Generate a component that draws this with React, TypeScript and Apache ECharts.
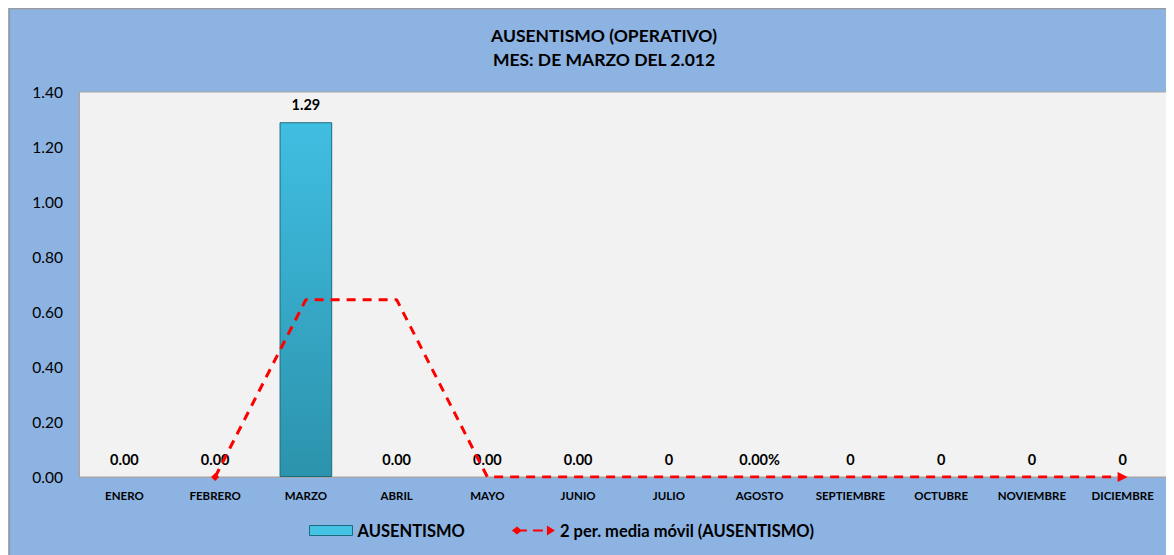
import React, { useEffect, useRef } from "react";
import * as echarts from "echarts";

const titleLines = ["AUSENTISMO (OPERATIVO)", "MES: DE MARZO DEL 2.012"];
const months = ["ENERO", "FEBRERO", "MARZO", "ABRIL", "MAYO", "JUNIO", "JULIO", "AGOSTO", "SEPTIEMBRE", "OCTUBRE", "NOVIEMBRE", "DICIEMBRE"];
const ausentismo = [0, 0, 1.29, 0, 0, 0, 0, 0, 0, 0, 0, 0];
const barLabels = ["0.00", "0.00", "1.29", "0.00", "0.00", "0.00", "0", "0.00%", "0", "0", "0", "0"];
const mediaMovil = [null, 0, 0.645, 0.645, 0, 0, 0, 0, 0, 0, 0, 0];
const seriesNames = ["AUSENTISMO", "2 per. media móvil (AUSENTISMO)"];

const FONT = "Lato, 'Open Sans', sans-serif";
const LINE_ICON = "path://M0,5 L5,1 L10,5 L5,9 Z M9,4 L15,4 L15,6 L9,6 Z M21,4 L31,4 L31,6 L21,6 Z M35,0 L43,5 L35,10 Z";

export default function App() {
  const ref = useRef<HTMLDivElement>(null);
  useEffect(() => {
    if (!ref.current) return;
    const chart = echarts.init(ref.current, null, { renderer: "svg" });
    const barGrad = new echarts.graphic.LinearGradient(0, 0, 0, 1, [
      { offset: 0, color: "#40BEE2" },
      { offset: 1, color: "#2C93AC" },
    ]);
    const barData = ausentismo.map((v) => ({
      value: v,
      itemStyle: { borderWidth: v > 0 ? 1 : 0 },
    }));
    const lineData = mediaMovil.map((v, i) => {
      if (i === 1) return { value: v, symbol: "diamond", symbolSize: 8 };
      if (i === mediaMovil.length - 1) return { value: v, symbol: "triangle", symbolRotate: -90, symbolSize: 10 };
      return { value: v, symbol: "none" };
    });
    chart.setOption({
      animation: false,
      backgroundColor: "#8DB3E2",
      textStyle: { fontFamily: FONT },
      title: {
        text: titleLines.join("\n"),
        left: 591,
        top: 10,
        textAlign: "center",
        textStyle: { fontFamily: FONT, fontSize: 17.5, fontWeight: "bold", color: "#000", lineHeight: 24 },
      },
      graphic: [
        {
          type: "rect",
          shape: { x: 1.5, y: 0.5, width: 2000, height: 2000 },
          style: { fill: "none", stroke: "#9A9A9A", lineWidth: 1.5 },
          silent: true,
        },
      ],
      grid: {
        left: 71,
        top: 84,
        right: 6,
        bottom: 78,
        show: true,
        backgroundColor: "#F2F2F2",
        borderColor: "#A6A6A6",
        borderWidth: 1,
      },
      legend: {
        left: 301,
        top: 514,
        padding: 0,
        itemGap: 47,
        itemWidth: 43,
        itemHeight: 10,
        textStyle: { fontFamily: FONT, fontSize: 16.5, fontWeight: "bold", color: "#000" },
        data: [
          { name: seriesNames[0], icon: "rect", itemStyle: { color: "#45C3E5", borderColor: "#1E6B80", borderWidth: 1 } },
          { name: seriesNames[1], icon: LINE_ICON, itemStyle: { color: "#FF0000" } },
        ],
      },
      xAxis: {
        type: "category",
        data: months,
        axisTick: { show: false },
        axisLine: { lineStyle: { color: "#A6A6A6" } },
        axisLabel: { fontFamily: FONT, fontSize: 11.5, fontWeight: "bold", color: "#000", margin: 12, interval: 0 },
      },
      yAxis: {
        type: "value",
        min: 0,
        max: 1.4,
        interval: 0.2,
        splitLine: { show: false },
        axisLine: { show: true, lineStyle: { color: "#A6A6A6" } },
        axisTick: { show: false },
        axisLabel: {
          fontFamily: FONT,
          fontSize: 15.5,
          color: "#000",
          margin: 16,
          formatter: (v: number) => v.toFixed(2),
        },
      },
      series: [
        {
          name: seriesNames[0],
          type: "bar",
          data: barData,
          barWidth: "58%",
          itemStyle: { color: barGrad, borderColor: "#1E6B80", borderWidth: 1 },
          label: {
            show: true,
            position: "top",
            distance: 10,
            fontFamily: FONT,
            fontSize: 14.5,
            fontWeight: "bold",
            color: "#000",
            formatter: (p: any) => barLabels[p.dataIndex],
          },
        },
        {
          name: seriesNames[1],
          type: "line",
          data: lineData,
          symbol: "diamond",
          symbolSize: 8,
          showSymbol: true,
          itemStyle: { color: "#FF0000" },
          lineStyle: { color: "#FF0000", width: 3, type: [9, 7] },
          z: 5,
        },
      ],
    });
    return () => chart.dispose();
  }, []);
  return <div ref={ref} style={{ width: 1166, height: 547 }} />;
}
